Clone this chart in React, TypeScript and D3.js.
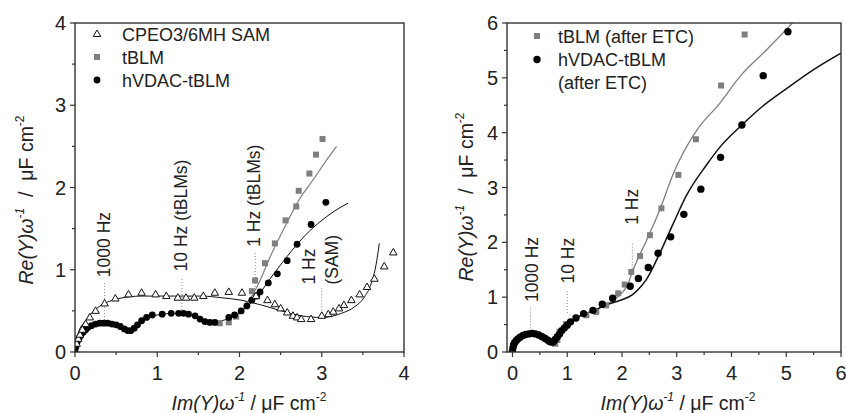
import React from 'react';
import * as d3 from 'd3';

type P = [number, number];

// ---------- Left panel data ----------
const samPts: P[] = [[0.02,0.1],[0.04,0.16],[0.06,0.21],[0.09,0.27],[0.13,0.34],[0.18,0.42],[0.25,0.5],[0.36,0.59],[0.49,0.65],[0.65,0.70],[0.81,0.72],[0.98,0.70],[1.11,0.68],[1.25,0.66],[1.35,0.66],[1.45,0.66],[1.56,0.68],[1.70,0.72],[1.87,0.73],[2.03,0.72],[2.2,0.68],[2.34,0.63],[2.43,0.58],[2.5,0.53],[2.58,0.48],[2.65,0.44],[2.70,0.42],[2.75,0.40],[2.87,0.40],[3.00,0.44],[3.08,0.46],[3.14,0.49],[3.21,0.53],[3.27,0.57],[3.36,0.63],[3.46,0.70],[3.55,0.79],[3.64,0.89],[3.76,1.04],[3.87,1.21]];
const tblmPts: P[] = [[1.76,0.35],[1.87,0.36],[1.96,0.43],[2.15,0.74],[2.19,0.87],[2.31,1.08],[2.43,1.32],[2.56,1.60],[2.69,1.77],[2.72,1.96],[2.85,2.17],[2.93,2.40],[3.01,2.59]];
const hvdacPts: P[] = [[0.0,0.01],[0.01,0.06],[0.02,0.1],[0.03,0.13],[0.05,0.17],[0.07,0.2],[0.1,0.24],[0.13,0.27],[0.16,0.30],[0.2,0.32],[0.25,0.34],[0.3,0.35],[0.35,0.35],[0.4,0.35],[0.45,0.34],[0.5,0.33],[0.55,0.31],[0.6,0.28],[0.64,0.26],[0.68,0.26],[0.72,0.29],[0.76,0.33],[0.81,0.38],[0.87,0.42],[0.94,0.45],[1.06,0.46],[1.17,0.47],[1.26,0.47],[1.32,0.47],[1.38,0.46],[1.46,0.44],[1.52,0.40],[1.58,0.37],[1.64,0.36],[1.70,0.36],[1.87,0.42],[1.94,0.45],[2.02,0.50],[2.09,0.56],[2.15,0.63],[2.21,0.68],[2.25,0.73],[2.35,0.84],[2.46,0.95],[2.58,1.11],[2.70,1.31],[2.87,1.55],[3.05,1.82]];
const samFit: P[] = [[0,0],[0.04,0.23],[0.12,0.37],[0.24,0.51],[0.36,0.59],[0.53,0.65],[0.81,0.68],[1.21,0.68],[1.54,0.68],[1.78,0.66],[2.02,0.63],[2.27,0.57],[2.51,0.50],[2.75,0.44],[3.0,0.42],[3.24,0.47],[3.40,0.55],[3.52,0.67],[3.60,0.83],[3.66,1.06],[3.70,1.32]];
const tblmFit: P[] = [[2.05,0.55],[2.15,0.68],[2.25,0.87],[2.37,1.15],[2.57,1.56],[2.73,1.86],[2.9,2.1],[3.05,2.32],[3.18,2.50]];
const hvdacFit: P[] = [[0,0],[0.03,0.12],[0.1,0.24],[0.2,0.31],[0.35,0.34],[0.5,0.32],[0.62,0.27],[0.68,0.26],[0.75,0.31],[0.85,0.40],[1.0,0.45],[1.2,0.47],[1.4,0.45],[1.55,0.40],[1.7,0.37],[1.85,0.40],[2.0,0.48],[2.1,0.56],[2.2,0.65],[2.35,0.86],[2.5,1.06],[2.65,1.25],[2.8,1.42],[3.0,1.60],[3.15,1.71],[3.32,1.81]];

// ---------- Right panel data ----------
const tblmEtcPts: P[] = [[0.78,0.15],[0.82,0.22],[0.86,0.37],[0.98,0.51],[1.35,0.67],[1.53,0.73],[1.71,0.85],[1.93,1.07],[2.05,1.23],[2.17,1.46],[2.33,1.75],[2.51,2.13],[2.72,2.62],[3.03,3.23],[3.35,3.88],[3.81,4.86],[4.24,5.79]];
const hvdacEtcPts: P[] = [[0.0,0.02],[0.01,0.08],[0.02,0.13],[0.04,0.17],[0.07,0.21],[0.1,0.24],[0.14,0.27],[0.19,0.30],[0.24,0.32],[0.3,0.33],[0.36,0.34],[0.42,0.33],[0.48,0.31],[0.54,0.28],[0.59,0.25],[0.64,0.22],[0.68,0.19],[0.72,0.18],[0.75,0.19],[0.78,0.23],[0.82,0.28],[0.86,0.33],[0.9,0.39],[0.95,0.44],[1.0,0.49],[1.06,0.55],[1.16,0.62],[1.3,0.70],[1.47,0.76],[1.64,0.87],[1.83,0.98],[2.15,1.20],[2.30,1.34],[2.48,1.54],[2.66,1.80],[2.89,2.10],[3.13,2.51],[3.44,2.97],[3.80,3.55],[4.19,4.14],[4.58,5.04],[5.03,5.84]];
const tblmEtcFit: P[] = [[0,0],[0.05,0.15],[0.15,0.26],[0.33,0.33],[0.5,0.3],[0.65,0.22],[0.73,0.18],[0.8,0.25],[0.9,0.4],[1.0,0.5],[1.2,0.64],[1.5,0.76],[1.8,0.92],[2.0,1.08],[2.1,1.22],[2.2,1.49],[2.45,2.04],[2.69,2.59],[2.94,3.26],[3.37,4.05],[3.79,4.54],[4.16,5.03],[4.65,5.52],[5.15,6.04]];
const hvdacEtcFit: P[] = [[0,0],[0.05,0.15],[0.15,0.26],[0.33,0.33],[0.5,0.3],[0.65,0.22],[0.73,0.18],[0.8,0.25],[0.9,0.4],[1.0,0.5],[1.2,0.64],[1.5,0.76],[1.69,0.85],[1.96,0.94],[2.2,1.05],[2.35,1.2],[2.45,1.33],[2.69,1.80],[2.94,2.35],[3.18,2.86],[3.55,3.42],[3.8,3.75],[4.2,4.15],[4.53,4.45],[5.0,4.8],[5.5,5.15],[6.0,5.45]];

// ---------- Ticks ----------
const leftXTicks = [0, 1, 2, 3, 4];
const leftXMinor = [0.5, 1.5, 2.5, 3.5];
const leftYTicks = [0, 1, 2, 3, 4];
const leftYMinor = [0.5, 1.5, 2.5, 3.5];
const rightXTicks = [0, 1, 2, 3, 4, 5, 6];
const rightXMinor = [0.5, 1.5, 2.5, 3.5, 4.5, 5.5];
const rightYTicks = [0, 1, 2, 3, 4, 5, 6];
const rightYMinor = [0.5, 1.5, 2.5, 3.5, 4.5, 5.5];

// ---------- Legends / annotations ----------
const leftLegend = ['CPEO3/6MH SAM', 'tBLM', 'hVDAC-tBLM'];
const rightLegend = ['tBLM (after ETC)', 'hVDAC-tBLM', '(after ETC)'];

type Anno = { lx: number; ly0: number; ly1: number; tx: number[]; ty: number; lines: string[] };
const leftAnnos: Anno[] = [
  { lx: 0.36, ly0: 0.39, ly1: 0.84, tx: [0.35], ty: 0.91, lines: ['1000 Hz'] },
  { lx: 1.30, ly0: 0.51, ly1: 0.90, tx: [1.29], ty: 0.98, lines: ['10 Hz (tBLMs)'] },
  { lx: 2.19, ly0: 0.79, ly1: 1.21, tx: [2.175], ty: 1.28, lines: ['1 Hz (tBLMs)'] },
  { lx: 3.0, ly0: 0.47, ly1: 0.78, tx: [2.84, 3.12], ty: 0.82, lines: ['1 Hz', '(SAM)'] },
];
const rightAnnos: Anno[] = [
  { lx: 0.33, ly0: 0.43, ly1: 0.82, tx: [0.345], ty: 0.91, lines: ['1000 Hz'] },
  { lx: 1.0, ly0: 0.71, ly1: 1.15, tx: [1.005], ty: 1.25, lines: ['10 Hz'] },
  { lx: 2.19, ly0: 1.52, ly1: 1.99, tx: [2.18], ty: 2.32, lines: ['1 Hz'] },
];

const FONT = "'Liberation Sans', Arial, Helvetica, sans-serif";
const GRAY = '#7f7f7f';
const AX = '#333';

type Sc = d3.ScaleLinear<number, number>;

function Frame({ x, y, xt, xm, yt, ym }: { x: Sc; y: Sc; xt: number[]; xm: number[]; yt: number[]; ym: number[] }) {
  const [xa, xb] = x.range();
  const [ya, yb] = y.range();
  return (
    <g>
      <rect x={xa} y={yb} width={xb - xa} height={ya - yb} fill="none" stroke={AX} strokeWidth={1.4} />
      {xt.map((t) => (
        <g key={'xt' + t}>
          <line x1={x(t)} x2={x(t)} y1={ya} y2={ya + 5} stroke={AX} strokeWidth={1.2} />
          <text x={x(t)} y={ya + 28} textAnchor="middle" fontSize={20} fill="#222">{t}</text>
        </g>
      ))}
      {xm.map((t) => (
        <line key={'xm' + t} x1={x(t)} x2={x(t)} y1={ya} y2={ya + 3} stroke={AX} strokeWidth={1.2} />
      ))}
      {yt.map((t) => (
        <g key={'yt' + t}>
          <line x1={xa - 5} x2={xa} y1={y(t)} y2={y(t)} stroke={AX} strokeWidth={1.2} />
          <text x={xa - 9} y={y(t) + 7} textAnchor="end" fontSize={20} fill="#222">{t}</text>
        </g>
      ))}
      {ym.map((t) => (
        <line key={'ym' + t} x1={xa - 3} x2={xa} y1={y(t)} y2={y(t)} stroke={AX} strokeWidth={1.2} />
      ))}
    </g>
  );
}

function Annos({ x, y, annos }: { x: Sc; y: Sc; annos: Anno[] }) {
  const fs = 17.5;
  return (
    <g>
      {annos.map((a, i) => (
        <g key={i}>
          <line x1={x(a.lx)} x2={x(a.lx)} y1={y(a.ly0)} y2={y(a.ly1)} stroke="#888" strokeWidth={1} strokeDasharray="1,2" />
          {a.lines.map((s, j) => (
            <text key={j} transform={`translate(${x(a.tx[j]) + fs * 0.36},${y(a.ty)}) rotate(-90)`} fontSize={fs} fill="#222">{s}</text>
          ))}
        </g>
      ))}
    </g>
  );
}

function Tri({ cx, cy, s = 7.5 }: { cx: number; cy: number; s?: number }) {
  const h = s * 0.87;
  return <path d={`M${cx},${cy - h * 0.62}L${cx + s / 2},${cy + h * 0.38}L${cx - s / 2},${cy + h * 0.38}Z`} fill="#fff" stroke="#111" strokeWidth={1} />;
}

function YLabel({ x, y }: { x: number; y: number }) {
  return (
    <text transform={`translate(${x},${y}) rotate(-90)`} textAnchor="middle" fontSize={19.5} fill="#222">
      <tspan fontStyle="italic">Re(Y)ω</tspan>
      <tspan fontStyle="italic" fontSize={12} dy={-9}>-1</tspan>
      <tspan dy={9}>{'\u00a0\u00a0/\u00a0\u00a0μF cm'}</tspan>
      <tspan fontSize={12} dy={-9}>-2</tspan>
    </text>
  );
}

function XLabel({ x, y }: { x: number; y: number }) {
  return (
    <text x={x} y={y} textAnchor="middle" fontSize={19.5} fill="#222">
      <tspan fontStyle="italic">Im(Y)ω</tspan>
      <tspan fontStyle="italic" fontSize={12} dy={-9}>-1</tspan>
      <tspan dy={9}>{' / μF cm'}</tspan>
      <tspan fontSize={12} dy={-9}>-2</tspan>
    </text>
  );
}

export default function App() {
  const lx = d3.scaleLinear().domain([0, 4]).range([75, 404]);
  const ly = d3.scaleLinear().domain([0, 4]).range([352, 23]);
  const rx = d3.scaleLinear().domain([-0.1, 6]).range([507, 841]);
  const ry = d3.scaleLinear().domain([0, 6]).range([352, 23]);

  const mk = (x: Sc, y: Sc) => d3.line<P>().x((d) => x(d[0])).y((d) => y(d[1])).curve(d3.curveMonotoneX);
  const lLine = mk(lx, ly);
  const rLine = mk(rx, ry);

  return (
    <svg width={846} height={413} style={{ position: 'absolute', left: 0, top: 0, background: '#fff' }} fontFamily={FONT}>
      <rect width={846} height={413} fill="#fff" />
      <defs>
        <clipPath id="clipL"><rect x={75} y={23} width={329} height={329} /></clipPath>
        <clipPath id="clipR"><rect x={507} y={23} width={334} height={329} /></clipPath>
      </defs>

      {/* Left panel */}
      <Annos x={lx} y={ly} annos={leftAnnos} />
      <g clipPath="url(#clipL)">
        <path d={lLine(samFit) || ''} fill="none" stroke="#111" strokeWidth={1} />
        <path d={lLine(tblmFit) || ''} fill="none" stroke={GRAY} strokeWidth={1.2} />
        <path d={lLine(hvdacFit) || ''} fill="none" stroke="#111" strokeWidth={1} />
        {tblmPts.map((d, i) => (
          <rect key={i} x={lx(d[0]) - 3} y={ly(d[1]) - 3} width={6} height={6} fill={GRAY} />
        ))}
        {hvdacPts.map((d, i) => (
          <circle key={i} cx={lx(d[0])} cy={ly(d[1])} r={3.4} fill="#000" />
        ))}
        {samPts.map((d, i) => (
          <Tri key={i} cx={lx(d[0])} cy={ly(d[1])} />
        ))}
      </g>
      <Frame x={lx} y={ly} xt={leftXTicks} xm={leftXMinor} yt={leftYTicks} ym={leftYMinor} />
      {/* Left legend */}
      <Tri cx={97} cy={34} />
      <rect x={94} y={54} width={6} height={6} fill={GRAY} />
      <circle cx={97} cy={80} r={3.4} fill="#000" />
      {leftLegend.map((s, i) => (
        <text key={s} x={122} y={34 + i * 23 + 6.5} fontSize={18} fill="#222">{s}</text>
      ))}
      <YLabel x={33} y={200} />
      <XLabel x={249} y={410} />

      {/* Right panel */}
      <Annos x={rx} y={ry} annos={rightAnnos} />
      <g clipPath="url(#clipR)">
        <path d={rLine(tblmEtcFit) || ''} fill="none" stroke={GRAY} strokeWidth={1.3} />
        <path d={rLine(hvdacEtcFit) || ''} fill="none" stroke="#111" strokeWidth={1.5} />
        {tblmEtcPts.map((d, i) => (
          <rect key={i} x={rx(d[0]) - 3} y={ry(d[1]) - 3} width={6} height={6} fill={GRAY} />
        ))}
        {hvdacEtcPts.map((d, i) => (
          <circle key={i} cx={rx(d[0])} cy={ry(d[1])} r={3.7} fill="#000" />
        ))}
      </g>
      <Frame x={rx} y={ry} xt={rightXTicks} xm={rightXMinor} yt={rightYTicks} ym={rightYMinor} />
      <rect x={534} y={33} width={6} height={6} fill={GRAY} />
      <circle cx={537} cy={59.5} r={3.7} fill="#000" />
      {rightLegend.map((s, i) => (
        <text key={s} x={558} y={36 + i * 23.3 + 6.5} fontSize={18} fill="#222">{s}</text>
      ))}
      <YLabel x={473} y={197} />
      <XLabel x={678} y={410} />
    </svg>
  );
}
